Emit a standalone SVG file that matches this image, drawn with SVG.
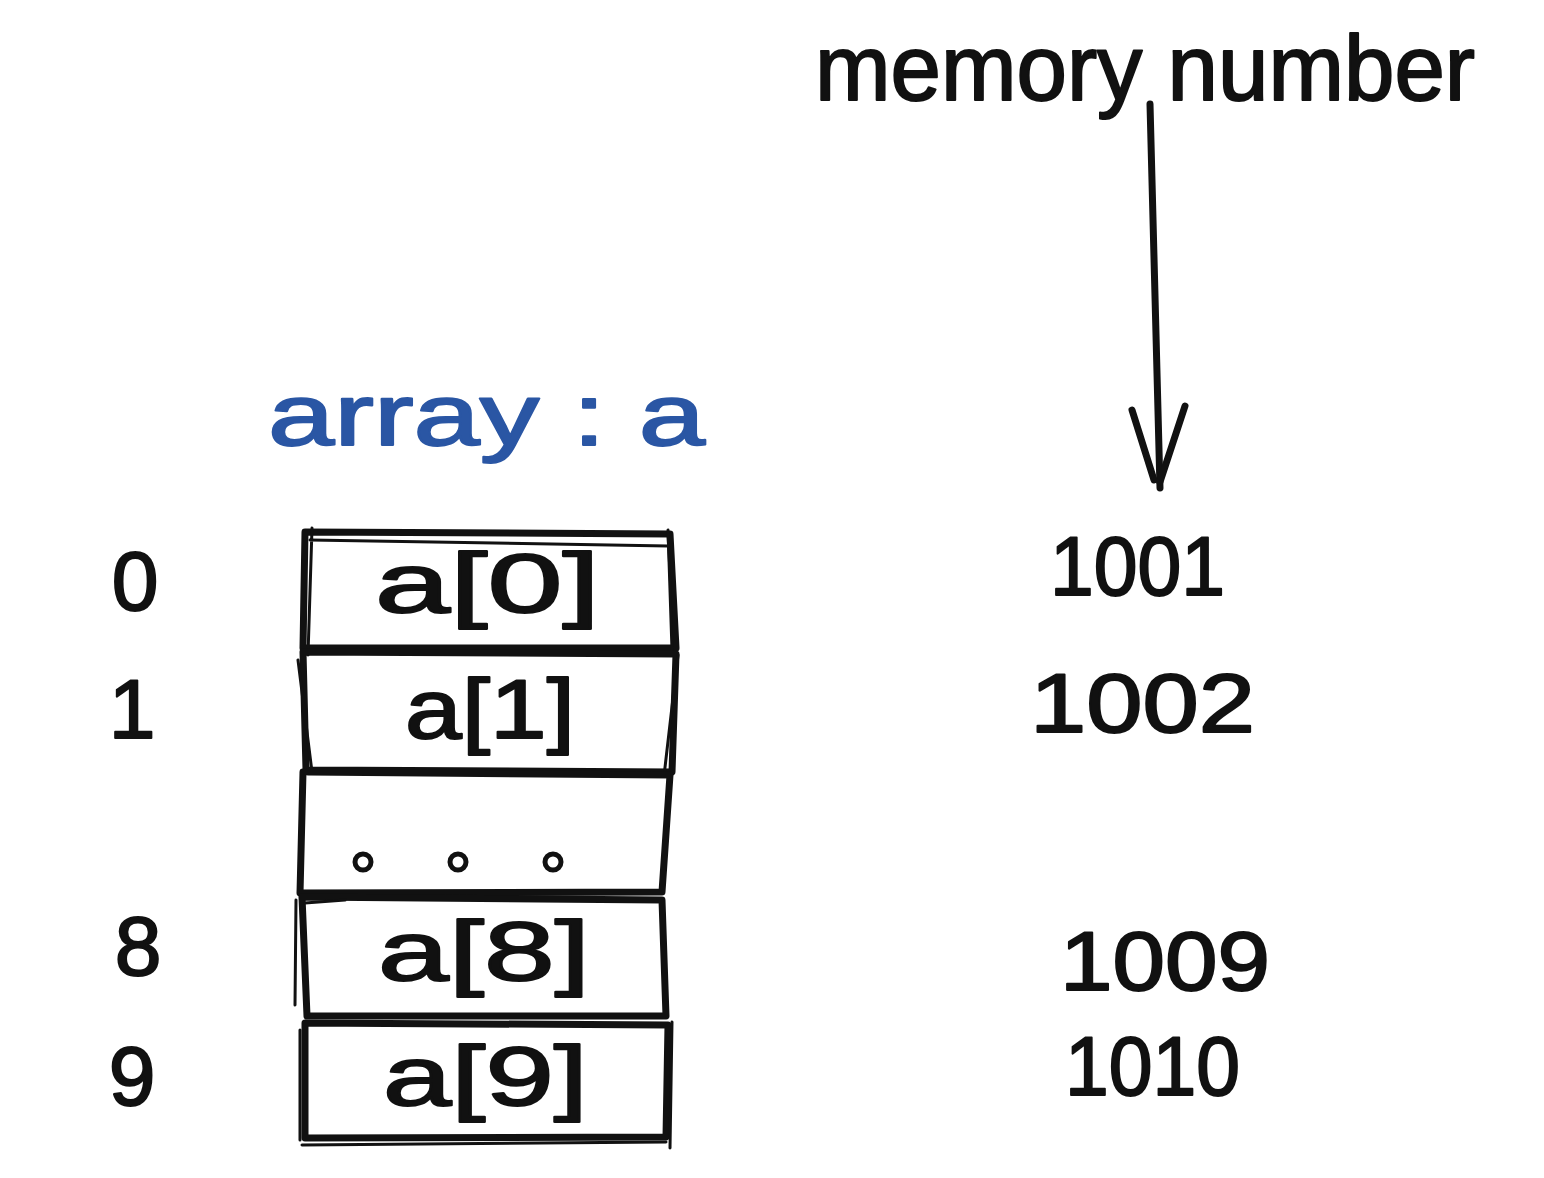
<svg xmlns="http://www.w3.org/2000/svg" width="1544" height="1178" viewBox="0 0 1544 1178">
<style>
.t{font-family:"Liberation Sans",Arial,sans-serif;fill:#111;stroke:#111;stroke-width:2;stroke-linejoin:round;}
.b{fill:#2a56a4;stroke:#2a56a4;}
.ln{stroke:#111;stroke-width:7;fill:none;stroke-linecap:round;stroke-linejoin:round;}
.th{stroke:#111;stroke-width:3;fill:none;stroke-linecap:round;}
.dot{fill:none;stroke:#111;stroke-width:5;}
</style>
<rect width="1544" height="1178" fill="#fff"/>
<g id="title">
<text class="t" x="815" y="100" font-size="92" textLength="660" lengthAdjust="spacingAndGlyphs">memory number</text>
</g>
<g id="array-label">
<text class="t b" x="268" y="445" font-size="88" textLength="437" lengthAdjust="spacingAndGlyphs">array : a</text>
</g>
<g id="connectors">
<path class="ln" d="M1150 104 L1160 488"/>
<path class="ln" d="M1132 410 L1154 480 M1185 406 L1160 482"/>
</g>
<g id="array">
<g id="cell0">
<path class="ln" d="M305 532 L670 534 L676 648 L303 648 Z"/>
<path class="th" d="M310 540 L668 546 M312 528 L308 655 M668 530 L672 650"/>
<text class="t" x="375" y="612" font-size="84" textLength="225" lengthAdjust="spacingAndGlyphs">a[0]</text>
</g>
<g id="cell1">
<path class="ln" d="M303 652 L676 654 L672 772 L306 770 Z"/>
<path class="th" d="M298 660 L312 772 M678 655 L664 776"/>
<text class="t" x="405" y="738" font-size="84" textLength="170" lengthAdjust="spacingAndGlyphs">a[1]</text>
</g>
<g id="cell-dots">
<path class="ln" d="M308 772 L670 775 L662 892 L300 893 L303 772"/>
<circle class="dot" cx="363" cy="862" r="8"/>
<circle class="dot" cx="458" cy="862" r="8"/>
<circle class="dot" cx="553" cy="862" r="8"/>
</g>
<g id="cell8">
<path class="ln" d="M302 897 L662 900 L666 1016 L307 1016 Z"/>
<path class="th" d="M296 900 L295 1005 M305 903 L345 900"/>
<text class="t" x="378" y="980" font-size="84" textLength="212" lengthAdjust="spacingAndGlyphs">a[8]</text>
</g>
<g id="cell9">
<path class="ln" d="M305 1023 L668 1025 L666 1137 L305 1138 Z"/>
<path class="th" d="M302 1145 L666 1142 M672 1022 L670 1148 M300 1030 L300 1140"/>
<text class="t" x="383" y="1105" font-size="84" textLength="205" lengthAdjust="spacingAndGlyphs">a[9]</text>
</g>
</g>
<g id="indices">
<text class="t" x="135" y="610" font-size="84" text-anchor="middle">0</text>
<text class="t" x="132" y="738" font-size="84" text-anchor="middle">1</text>
<text class="t" x="138" y="975" font-size="84" text-anchor="middle">8</text>
<text class="t" x="132" y="1105" font-size="84" text-anchor="middle">9</text>
</g>
<g id="addresses">
<text class="t" x="1050" y="595" font-size="84" textLength="175" lengthAdjust="spacingAndGlyphs">1001</text>
<text class="t" x="1030" y="732" font-size="84" textLength="225" lengthAdjust="spacingAndGlyphs">1002</text>
<text class="t" x="1060" y="990" font-size="84" textLength="210" lengthAdjust="spacingAndGlyphs">1009</text>
<text class="t" x="1065" y="1095" font-size="84" textLength="175" lengthAdjust="spacingAndGlyphs">1010</text>
</g>
</svg>
